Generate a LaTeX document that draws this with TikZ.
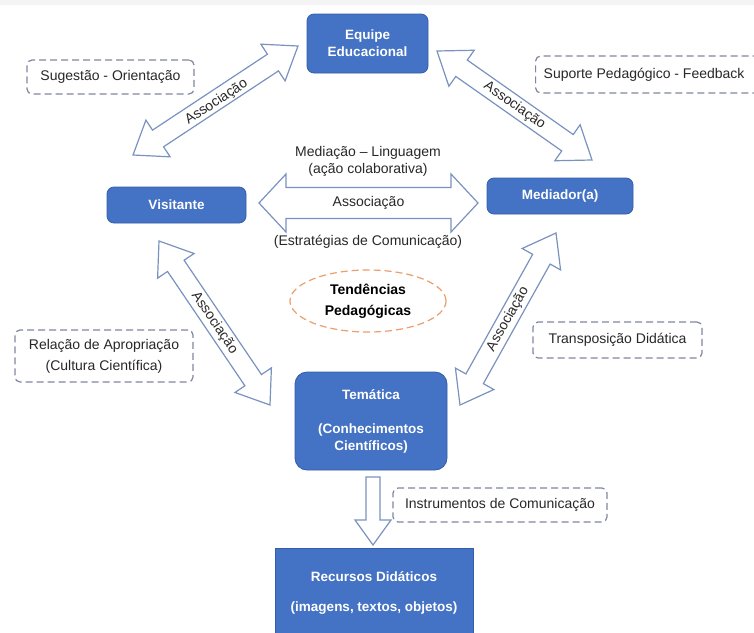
\documentclass[tikz,border=0pt]{standalone}
\usepackage{fontspec}
\setmainfont{Liberation Sans}
\usetikzlibrary{calc,shapes.geometric}
\definecolor{boxblue}{RGB}{68,114,196}
\definecolor{boxedge}{RGB}{52,94,172}
\definecolor{arrowline}{RGB}{122,146,192}
\definecolor{dashline}{RGB}{128,134,160}
\definecolor{ellorange}{RGB}{236,158,108}
\definecolor{txt}{RGB}{40,40,40}
\newcommand{\txtfont}{\fontsize{14}{17}\selectfont}
\newcommand{\boxfont}{\fontsize{13.5}{17}\selectfont\bfseries}
% double block arrow: #1 start, #2 end, #3 shaft half width, #4 head half width, #5 head length
\newcommand{\dblarr}[5]{%
  \draw[barrow] let \p1=($(#2)-(#1)$), \n1={atan2(\y1,\x1)} in
   (#1) -- ($(#1)+(\n1:#5)+(\n1+90:#4)$) -- ($(#1)+(\n1:#5)+(\n1+90:#3)$)
   -- ($(#2)+(\n1:-#5)+(\n1+90:#3)$) -- ($(#2)+(\n1:-#5)+(\n1+90:#4)$) -- (#2)
   -- ($(#2)+(\n1:-#5)+(\n1-90:#4)$) -- ($(#2)+(\n1:-#5)+(\n1-90:#3)$)
   -- ($(#1)+(\n1:#5)+(\n1-90:#3)$) -- ($(#1)+(\n1:#5)+(\n1-90:#4)$) -- cycle;}
\newcommand{\sglarr}[5]{%
  \draw[barrow] let \p1=($(#2)-(#1)$), \n1={atan2(\y1,\x1)} in
   ($(#1)+(\n1+90:#3)$)
   -- ($(#2)+(\n1:-#5)+(\n1+90:#3)$) -- ($(#2)+(\n1:-#5)+(\n1+90:#4)$) -- (#2)
   -- ($(#2)+(\n1:-#5)+(\n1-90:#4)$) -- ($(#2)+(\n1:-#5)+(\n1-90:#3)$)
   -- ($(#1)+(\n1-90:#3)$) -- cycle;}
\tikzset{
  barrow/.style={draw=arrowline, fill=white, line width=1.2pt, line join=miter},
  bluebox/.style={draw=boxedge, fill=boxblue, line width=0.8pt, rounded corners=7pt,
    text=white, font=\boxfont, align=center, inner sep=0pt},
  dashbox/.style={draw=dashline, line width=1.2pt, dash pattern=on 7pt off 4pt,
    rounded corners=5pt, text=txt, font=\txtfont, align=center, inner sep=0pt},
  lbl/.style={text=txt, font=\txtfont, align=center, inner sep=0pt},
}
\begin{document}
\begin{tikzpicture}[x=1pt,y=-1pt]
\useasboundingbox (0,0) rectangle (754,632);
\fill[white] (0,0) rectangle (754,632);
\fill[gray!9] (0,0) rectangle (754,5);

% main boxes
\node[bluebox, minimum width=121pt, minimum height=59pt] (eq) at (367.5,43.5) {Equipe\\Educacional};
\node[bluebox, minimum width=139pt, minimum height=36pt] (vis) at (176.5,205) {Visitante};
\node[bluebox, minimum width=146pt, minimum height=36pt] (med) at (560,196) {Mediador(a)};
\node[bluebox, minimum width=152pt, minimum height=98pt, rounded corners=12pt] (tem) at (371,421)
  {Temática\\[17pt](Conhecimentos\\Científicos)};
\node[bluebox, rounded corners=0pt, minimum width=198pt, minimum height=90pt] (rec) at (374,593)
  {Recursos Didáticos\\[13pt](imagens, textos, objetos)};

% ellipse
\node[ellipse, draw=ellorange, line width=1.2pt, dash pattern=on 7pt off 4pt,
  minimum width=156pt, minimum height=62pt, font=\fontsize{14}{21}\selectfont\bfseries,
  text=black, align=center, inner sep=0pt] (tp) at (368,301) {Tendências\\Pedagógicas};

% dashed boxes
\node[dashbox, minimum width=167pt, minimum height=34pt] (sug) at (110.5,77) {Sugestão - Orientação};
\node[dashbox, minimum width=240pt, minimum height=37pt, anchor=west] (sup) at (535,74.5) {\hspace*{-23pt}Suporte Pedagógico - Feedback};
\node[dashbox, minimum width=178pt, minimum height=52pt, font=\fontsize{14}{21}\selectfont] (rel) at (104,356) {Relação de Apropriação\\(Cultura Científica)};
\node[dashbox, minimum width=169pt, minimum height=36pt] (tra) at (617.5,340) {Transposição Didática};
\node[dashbox, minimum width=214pt, minimum height=34pt] (ins) at (500,505) {Instrumentos de Comunicação};

% arrow end points
\coordinate (ve1) at (133,155);
\coordinate (ve2) at (298,46);
\coordinate (em1) at (437,51);
\coordinate (em2) at (592,160);
\coordinate (vm1) at (259,203);
\coordinate (vm2) at (478,203);
\coordinate (vt1) at (159,241);
\coordinate (vt2) at (270,405);
\coordinate (mt1) at (556,233);
\coordinate (mt2) at (460,405);
\coordinate (tr1) at (373,477);
\coordinate (tr2) at (373,545);

\dblarr{ve1}{ve2}{10pt}{22pt}{30pt}
\dblarr{em1}{em2}{10pt}{22pt}{30pt}
\dblarr{vm1}{vm2}{15.5pt}{29pt}{27pt}
\dblarr{vt1}{vt2}{10pt}{22pt}{30pt}
\dblarr{mt1}{mt2}{10pt}{22pt}{30pt}
\sglarr{tr1}{tr2}{7pt}{18pt}{25pt}

% arrow labels
\path (ve1) -- node[lbl, sloped, pos=0.5, yshift=-2pt] {Associação} (ve2);
\path (em1) -- node[lbl, sloped, pos=0.5] {Associação} (em2);
\path (vm1) -- node[lbl, pos=0.5] {Associação} (vm2);
\path (vt1) -- node[lbl, sloped, pos=0.5] {Associação} (vt2);
\path (mt1) -- node[lbl, sloped, pos=0.5] {Associação} (mt2);

% texts around horizontal arrow
\node[lbl] (ml) at (368,161) {Mediação – Linguagem\\(ação colaborativa)};
\node[lbl] (ec) at (368,242) {(Estratégias de Comunicação)};
\end{tikzpicture}
\end{document}
